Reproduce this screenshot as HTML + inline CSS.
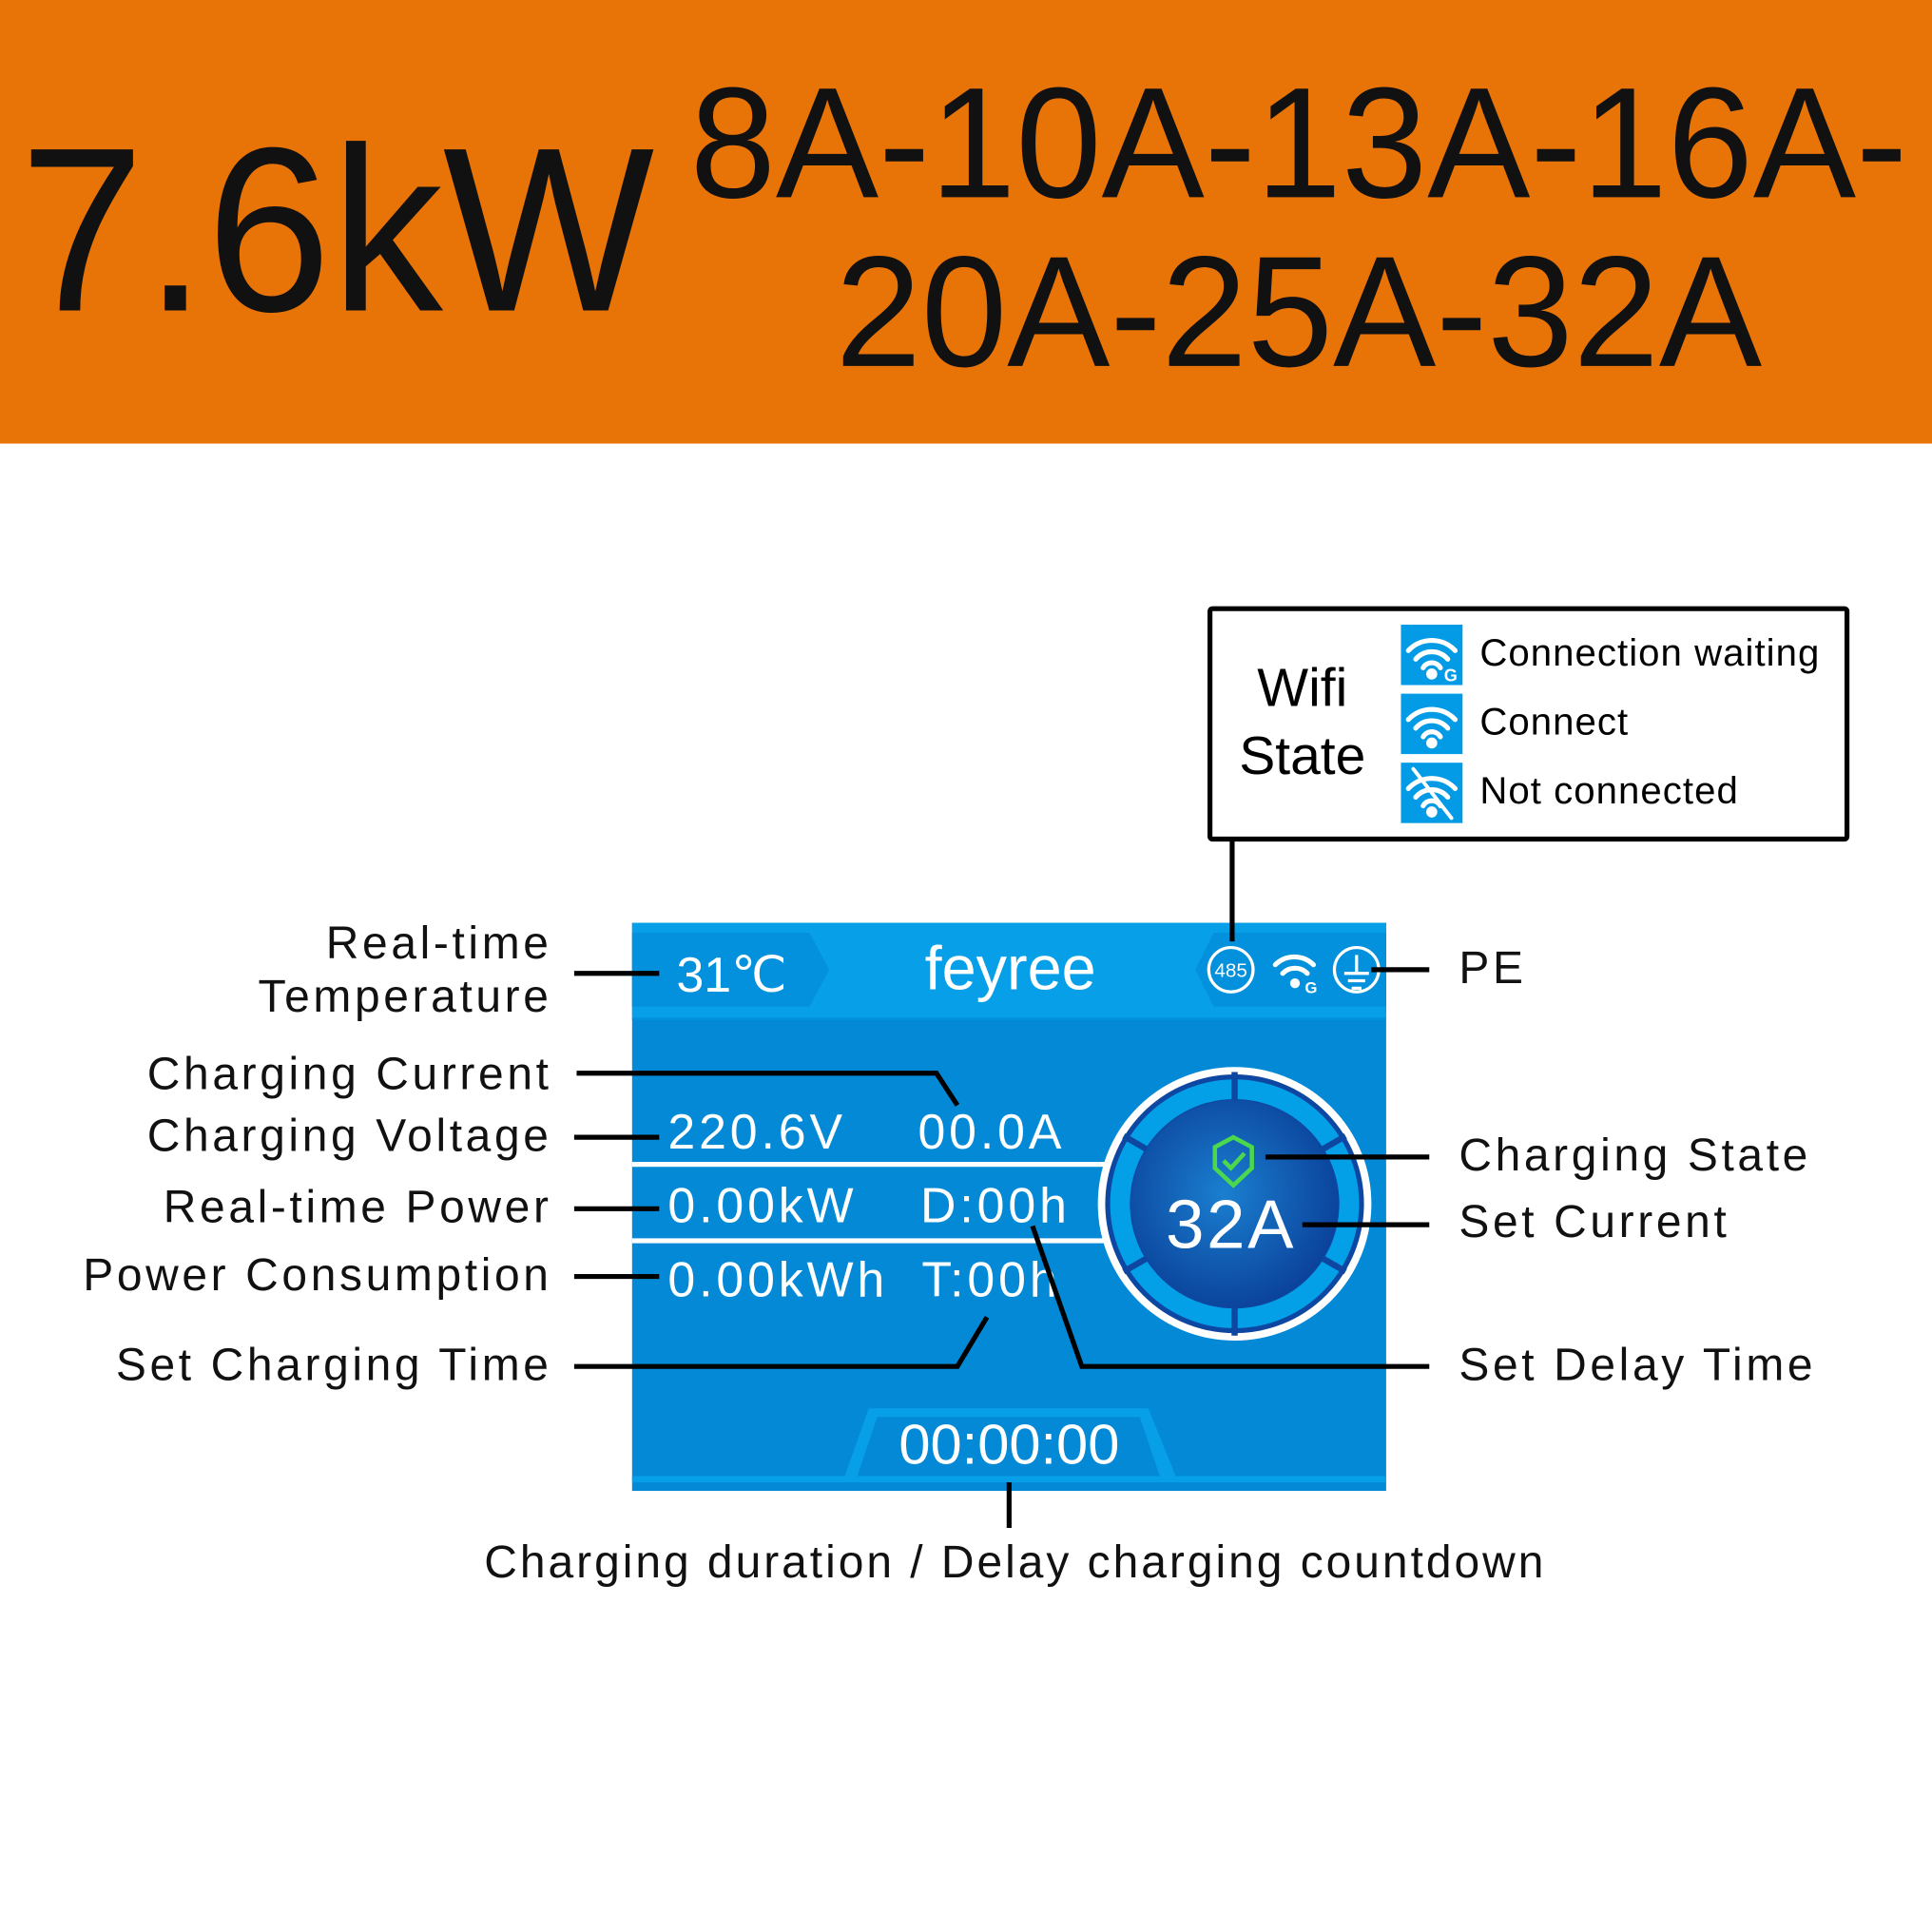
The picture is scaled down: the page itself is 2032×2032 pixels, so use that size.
<!DOCTYPE html>
<html><head><meta charset="utf-8"><style>
html,body{margin:0;padding:0;background:#fff;width:2032px;height:2032px;overflow:hidden}
svg{display:block}
text{font-family:"Liberation Sans",sans-serif}
</style></head><body>
<svg width="2032" height="2032" viewBox="0 0 1568 1568" xmlns="http://www.w3.org/2000/svg">
<defs>
<radialGradient id="g1" cx="0.45" cy="0.45" r="0.6">
<stop offset="0" stop-color="#1a7fd0"/><stop offset="1" stop-color="#0a3f98"/>
</radialGradient>
</defs>
<rect x="0" y="0" width="1568" height="360" fill="#E87306"/>
<text x="16" y="252" font-size="190" fill="#111" textLength="515" lengthAdjust="spacingAndGlyphs">7.6kW</text>
<text x="1054" y="160" font-size="128" fill="#111" text-anchor="middle" textLength="988" lengthAdjust="spacingAndGlyphs">8A-10A-13A-16A-</text>
<text x="1054" y="297" font-size="128" fill="#111" text-anchor="middle" textLength="752" lengthAdjust="spacingAndGlyphs">20A-25A-32A</text>

<!-- wifi box -->
<rect x="982" y="494" width="517" height="187" fill="#fff" stroke="#000" stroke-width="4" rx="2"/>
<text x="1057" y="573" font-size="44" text-anchor="middle">Wifi</text>
<text x="1057" y="628" font-size="44" text-anchor="middle">State</text>
<g fill="#039BE5">
<rect x="1137" y="507" width="50" height="49"/>
<rect x="1137" y="563" width="50" height="49"/>
<rect x="1137" y="619" width="50" height="49"/>
</g>
<g fill="none" stroke="#fff" stroke-width="4" stroke-linecap="round">
<path d="M1143 528 A26 26 0 0 1 1181 528"/><path d="M1149 535 A17 17 0 0 1 1175 535"/><path d="M1155 542 A8 8 0 0 1 1169 542"/>
<path d="M1143 584 A26 26 0 0 1 1181 584"/><path d="M1149 591 A17 17 0 0 1 1175 591"/><path d="M1155 598 A8 8 0 0 1 1169 598"/>
<path d="M1143 640 A26 26 0 0 1 1181 640"/><path d="M1149 647 A17 17 0 0 1 1175 647"/><path d="M1155 654 A8 8 0 0 1 1169 654"/>
<path d="M1147 624 L1178 664" stroke-width="3"/>
</g>
<g fill="#fff"><circle cx="1162" cy="547" r="4.5"/><circle cx="1162" cy="603" r="4.5"/><circle cx="1162" cy="659" r="4.5"/></g>
<text x="1172" y="553" font-size="14" font-weight="bold" fill="#fff">G</text>
<g font-size="31" letter-spacing="0.8">
<text x="1201" y="540">Connection waiting</text>
<text x="1201" y="596">Connect</text>
<text x="1201" y="652">Not connected</text>
</g>

<!-- screen -->
<rect x="513" y="749" width="612" height="461" fill="#0389D6"/>
<rect x="513" y="749" width="612" height="77" fill="#07A0E8"/>
<polygon points="513,757 657,757 673,787 657,817 513,817" fill="#0390DC"/>
<polygon points="985,757 1125,757 1125,817 985,817 970,787" fill="#0390DC"/>
<rect x="513" y="826" width="612" height="2" fill="#0390DC"/>
<text x="549" y="805" font-size="40" fill="#fff">31℃</text>
<text x="820" y="803" font-size="50" fill="#fff" text-anchor="middle">feyree</text>
<g fill="none" stroke="#fff" stroke-width="2.5">
<circle cx="999" cy="787" r="18"/><circle cx="1101" cy="787" r="18"/>
<path d="M1035 783 A22 22 0 0 1 1066 783" stroke-width="4" stroke-linecap="round"/><path d="M1041 790 A14 14 0 0 1 1061 790" stroke-width="4" stroke-linecap="round"/>
<path d="M1101 775 V790 M1091 790 H1111 M1094 796 H1108 M1097 802 H1105"/>
</g>
<circle cx="1051" cy="798" r="4" fill="#fff"/>
<text x="1059" y="806" font-size="13" fill="#fff" font-weight="bold">G</text>
<text x="999" y="793" font-size="16" fill="#fff" text-anchor="middle">485</text>

<g fill="#fff" font-size="40" letter-spacing="3">
<text x="542" y="932">220.6V</text><text x="745" y="932">00.0A</text>
<text x="542" y="992">0.00kW</text><text x="747" y="992">D:00h</text>
<text x="542" y="1052">0.00kWh</text><text x="748" y="1052">T:00h</text>
</g>
<rect x="513" y="943" width="385" height="4" fill="#fff"/>
<rect x="513" y="1005" width="385" height="4" fill="#fff"/>

<!-- gauge -->
<circle cx="1002" cy="977" r="108" fill="#0d47a1" stroke="#fff" stroke-width="6"/>
<circle cx="1002" cy="977" r="93" fill="none" stroke="#03A0E8" stroke-width="16"/>
<g stroke="#0d47a1" stroke-width="5">
<line x1="1002" y1="870" x2="1002" y2="900"/><line x1="1002" y1="1054" x2="1002" y2="1084"/>
<line x1="912" y1="922" x2="938" y2="937"/><line x1="1092" y1="922" x2="1066" y2="937"/>
<line x1="912" y1="1032" x2="938" y2="1017"/><line x1="1092" y1="1032" x2="1066" y2="1017"/>
</g>
<circle cx="1002" cy="977" r="84" fill="url(#g1)"/>
<path d="M1001 923 L1016 931 V948 L1001 962 L986 948 V931 Z" fill="none" stroke="#4cd84c" stroke-width="3.5"/>
<path d="M993 942 L999 948 L1010 936" fill="none" stroke="#4cd84c" stroke-width="3.5"/>
<text x="999" y="1013" font-size="56" fill="#fff" text-anchor="middle" letter-spacing="2">32A</text>

<!-- bottom tab -->
<polygon points="685,1200 705,1143 932,1143 955,1200" fill="#07A0E8"/>
<polygon points="695,1200 712,1150 925,1150 942,1200" fill="#0389D6"/>
<rect x="513" y="1198" width="612" height="5" fill="#07A0E8"/>
<text x="819" y="1188" font-size="46" fill="#fff" text-anchor="middle">00:00:00</text>

<!-- connectors -->
<g fill="none" stroke="#000" stroke-width="4">
<line x1="1000" y1="682" x2="1000" y2="764"/>
<line x1="466" y1="790" x2="535" y2="790"/>
<polyline points="468,871 760,871 777,897"/>
<line x1="466" y1="923" x2="535" y2="923"/>
<line x1="466" y1="981" x2="535" y2="981"/>
<line x1="466" y1="1036" x2="535" y2="1036"/>
<polyline points="466,1109 777,1109 801,1069"/>
<polyline points="1160,1109 878,1109 838,995"/>
<line x1="1027" y1="939" x2="1160" y2="939"/>
<line x1="1057" y1="994" x2="1160" y2="994"/>
<line x1="1113" y1="787" x2="1160" y2="787"/>
<line x1="819" y1="1203" x2="819" y2="1240"/>
</g>

<g font-size="37" fill="#111" letter-spacing="2.8" text-anchor="end">
<text x="448" y="778">Real-time</text>
<text x="448" y="821">Temperature</text>
<text x="448" y="884">Charging Current</text>
<text x="448" y="934">Charging Voltage</text>
<text x="448" y="992">Real-time Power</text>
<text x="448" y="1047">Power Consumption</text>
<text x="448" y="1120">Set Charging Time</text>
</g>
<g font-size="37" fill="#111" letter-spacing="2.8">
<text x="1184" y="798">PE</text>
<text x="1184" y="950">Charging State</text>
<text x="1184" y="1004">Set Current</text>
<text x="1184" y="1120">Set Delay Time</text>
</g>
<text x="824" y="1280" font-size="37" fill="#111" letter-spacing="2.3" text-anchor="middle">Charging duration / Delay charging countdown</text>
</svg>
</body></html>
